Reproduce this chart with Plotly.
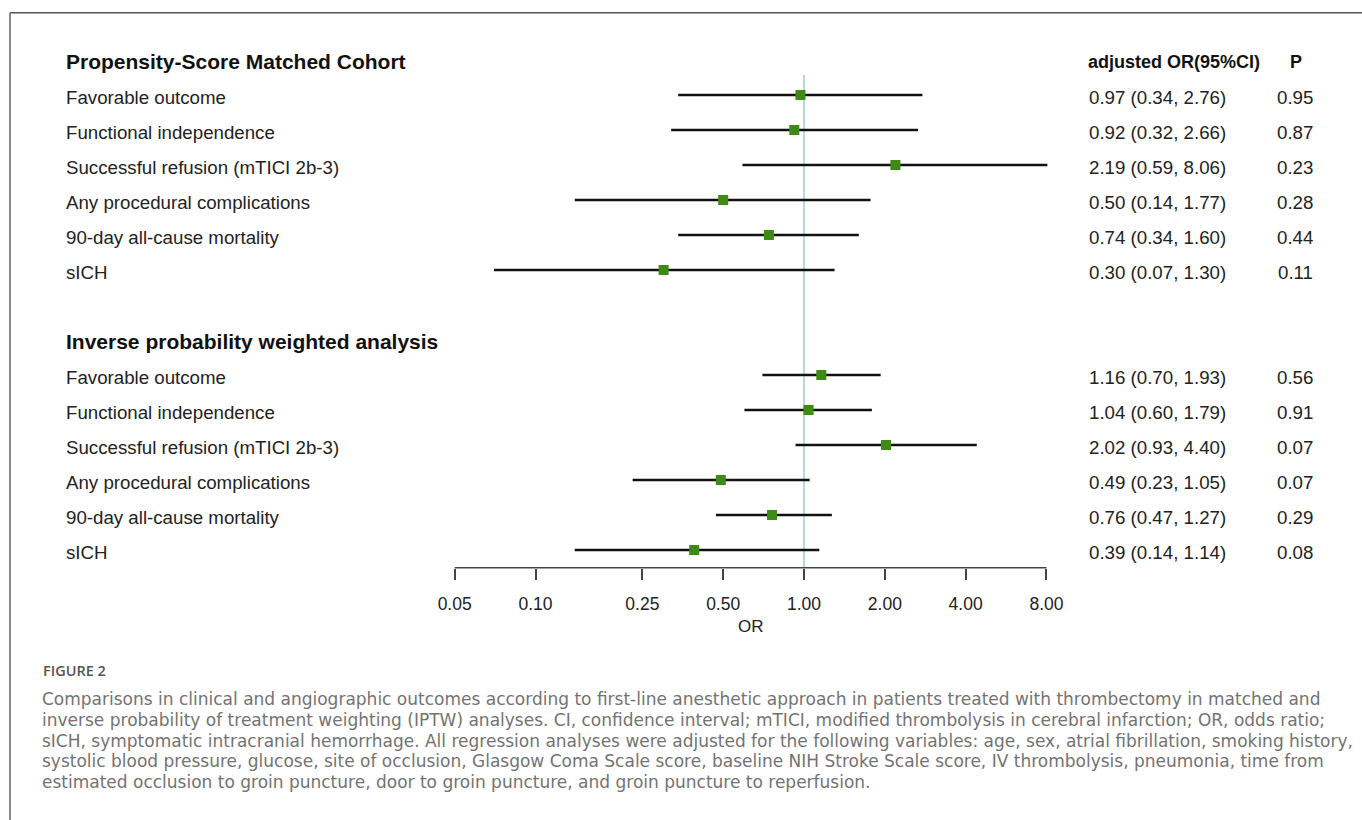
import math
import plotly.graph_objects as go

# ---------------- data ----------------
header_psm = "Propensity-Score Matched Cohort"
header_iptw = "Inverse probability weighted analysis"
outcomes = ["Favorable outcome", "Functional independence", "Successful refusion (mTICI 2b-3)",
            "Any procedural complications", "90-day all-cause mortality", "sICH"]

or_psm = [0.97, 0.92, 2.19, 0.50, 0.74, 0.30]
lo_psm = [0.34, 0.32, 0.59, 0.14, 0.34, 0.07]
hi_psm = [2.76, 2.66, 8.06, 1.77, 1.60, 1.30]
p_psm = ["0.95", "0.87", "0.23", "0.28", "0.44", "0.11"]

or_iptw = [1.16, 1.04, 2.02, 0.49, 0.76, 0.39]
lo_iptw = [0.70, 0.60, 0.93, 0.23, 0.47, 0.14]
hi_iptw = [1.93, 1.79, 4.40, 1.05, 1.27, 1.14]
p_iptw = ["0.56", "0.91", "0.07", "0.07", "0.29", "0.08"]

tick_vals = [0.05, 0.10, 0.25, 0.50, 1.00, 2.00, 4.00, 8.00]
tick_text = ["0.05", "0.10", "0.25", "0.50", "1.00", "2.00", "4.00", "8.00"]
ref_value = 1.0

col_or_header = "adjusted OR(95%CI)"
col_p_header = "P"
axis_title = "OR"
fig_label = "FIGURE 2"
caption_lines = [
    "Comparisons in clinical and angiographic outcomes according to first-line anesthetic approach in patients treated with thrombectomy in matched and",
    "inverse probability of treatment weighting (IPTW) analyses. CI, confidence interval; mTICI, modified thrombolysis in cerebral infarction; OR, odds ratio;",
    "sICH, symptomatic intracranial hemorrhage. All regression analyses were adjusted for the following variables: age, sex, atrial fibrillation, smoking history,",
    "systolic blood pressure, glucose, site of occlusion, Glasgow Coma Scale score, baseline NIH Stroke Scale score, IV thrombolysis, pneumonia, time from",
    "estimated occlusion to groin puncture, door to groin puncture, and groin puncture to reperfusion.",
]

# ---------------- layout geometry ----------------
W, H = 1362, 820
row_y_psm = list(range(0, 6))
row_y_iptw = list(range(8, 14))
head_y_psm = -1
head_y_iptw = 7

def py(px):
    return (H - px) / H

def pxx(px):
    return px / W

FONT = "Liberation Sans, Arial, sans-serif"
TXT = "#222222"

fig = go.Figure()

all_rows = row_y_psm + row_y_iptw
all_or = or_psm + or_iptw
all_lo = lo_psm + lo_iptw
all_hi = hi_psm + hi_iptw

xs, ys = [], []
for r, lo, hi in zip(all_rows, all_lo, all_hi):
    xs += [lo, hi, None]
    ys += [r, r, None]
fig.add_trace(go.Scatter(x=xs, y=ys, mode="lines", line=dict(color="#111111", width=2.4),
                         hoverinfo="skip", showlegend=False))
fig.add_trace(go.Scatter(x=all_or, y=all_rows, mode="markers",
                         marker=dict(symbol="square", size=10, color="#3d8a14",
                                     line=dict(width=0)),
                         showlegend=False))

# reference line
fig.add_shape(type="line", xref="x", yref="y", x0=ref_value, x1=ref_value, y0=-0.57, y1=13.506,
              line=dict(color="#9ccbd8", width=1.5), layer="below")
# axis line only between first and last tick
fig.add_shape(type="line", xref="x", yref="paper", x0=tick_vals[0], x1=tick_vals[-1],
              y0=py(567.7), y1=py(567.7), line=dict(color="#444444", width=1.6))

# border lines
fig.add_shape(type="line", xref="paper", yref="paper", x0=pxx(10), x1=1, y0=py(12.7), y1=py(12.7),
              line=dict(color="#555555", width=1.5))
fig.add_shape(type="line", xref="paper", yref="paper", x0=pxx(10), x1=pxx(10), y0=py(12.7), y1=0,
              line=dict(color="#8a8a8a", width=2))

ann = []
# headers
for txt, r in [(header_psm, head_y_psm), (header_iptw, head_y_iptw)]:
    ann.append(dict(text="<b>%s</b>" % txt, x=pxx(64), y=r, xref="paper", yref="y",
                    xanchor="left", yanchor="middle", showarrow=False, yshift=-2,
                    font=dict(family=FONT, size=21, color="#111111")))
ann.append(dict(text="<b>%s</b>" % col_or_header, x=pxx(1086), y=head_y_psm, xref="paper", yref="y",
                xanchor="left", yanchor="middle", showarrow=False, yshift=-2,
                font=dict(family=FONT, size=18, color="#111111")))
ann.append(dict(text="<b>%s</b>" % col_p_header, x=pxx(1296), y=head_y_psm, xref="paper", yref="y",
                xanchor="center", yanchor="middle", showarrow=False, yshift=-2,
                font=dict(family=FONT, size=18, color="#111111")))

for rows, ors, los, his, ps in [(row_y_psm, or_psm, lo_psm, hi_psm, p_psm),
                                (row_y_iptw, or_iptw, lo_iptw, hi_iptw, p_iptw)]:
    for lab, r, o, lo, hi, p in zip(outcomes, rows, ors, los, his, ps):
        ann.append(dict(text=lab, x=pxx(64), y=r, xref="paper", yref="y", xanchor="left",
                        yanchor="middle", showarrow=False, yshift=-3,
                        font=dict(family=FONT, size=18.7, color=TXT)))
        ann.append(dict(text="%.2f (%.2f, %.2f)" % (o, lo, hi), x=pxx(1087), y=r, xref="paper",
                        yref="y", xanchor="left", yanchor="middle", showarrow=False, yshift=-3,
                        font=dict(family=FONT, size=18.7, color=TXT)))
        ann.append(dict(text=p, x=pxx(1295), y=r, xref="paper", yref="y", xanchor="center",
                        yanchor="middle", showarrow=False, yshift=-3,
                        font=dict(family=FONT, size=18.7, color=TXT)))

# axis title centred under the axis (annotation x on log axis is log10 units)
axis_mid = (math.log10(tick_vals[0]) + math.log10(tick_vals[-1])) / 2
ann.append(dict(text=axis_title, x=axis_mid, y=py(626), xref="x", yref="paper", xanchor="center",
                yanchor="middle", showarrow=False, font=dict(family=FONT, size=17, color=TXT)))

CAP_FONT = "DejaVu Sans, sans-serif"
ann.append(dict(text=fig_label, x=pxx(41), y=py(670), xref="paper", yref="paper", xanchor="left",
                yanchor="middle", showarrow=False,
                font=dict(family="Open Sans, sans-serif", size=14.5, color="#555555", weight=600)))
for i, line in enumerate(caption_lines):
    ann.append(dict(text=line, x=pxx(40), y=py(699 + 20.8 * i), xref="paper", yref="paper",
                    xanchor="left", yanchor="middle", align="left", showarrow=False,
                    font=dict(family=CAP_FONT, size=17, color="#737373")))

x_range = [math.log10(ref_value) - 804 / 268.5, math.log10(ref_value) + (W - 804) / 268.5]

fig.update_layout(
    width=W, height=H,
    margin=dict(l=0, r=0, t=0, b=0),
    paper_bgcolor="white", plot_bgcolor="white",
    annotations=ann,
    xaxis=dict(type="log", range=x_range, domain=[0, 1], tickvals=tick_vals, ticktext=tick_text,
               ticks="outside", ticklen=11, tickwidth=1.6, tickcolor="#444444",
               showgrid=False, zeroline=False, showline=False, fixedrange=True,
               tickfont=dict(family=FONT, size=17.5, color=TXT), ticklabelstandoff=9),
    yaxis=dict(range=[13.506, -2.714], domain=[py(567.7), 1], visible=False, fixedrange=True),
)

fig.write_html("out.html", config={"displayModeBar": False},
               post_script="document.body.style.margin='0';document.body.style.overflow='hidden';")
